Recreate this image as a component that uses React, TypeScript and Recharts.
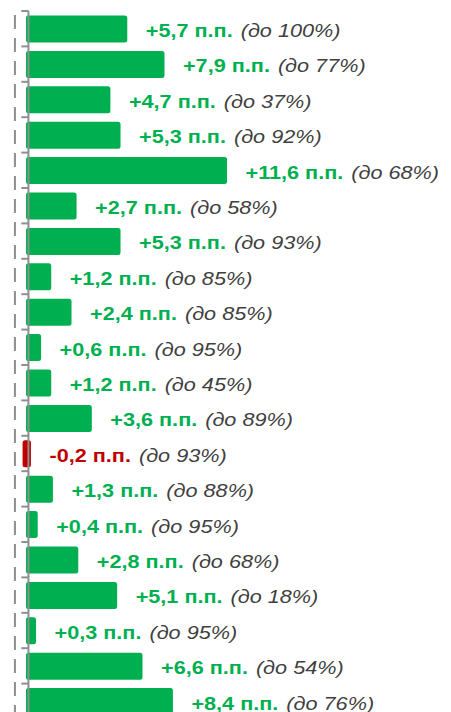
import { BarChart, Bar, XAxis, YAxis, Cell, LabelList, ReferenceLine } from 'recharts';

// row keys (the source chart shows no category names)
const rows = ['1', '2', '3', '4', '5', '6', '7', '8', '9', '10', '11', '12', '13', '14', '15', '16', '17', '18', '19', '20'];
// change, percentage points
const changes = [5.7, 7.9, 4.7, 5.3, 11.6, 2.7, 5.3, 1.2, 2.4, 0.6, 1.2, 3.6, -0.2, 1.3, 0.4, 2.8, 5.1, 0.3, 6.6, 8.4];
// level reached, %
const targets = [100, 77, 37, 92, 68, 58, 93, 85, 85, 95, 45, 89, 93, 88, 95, 68, 18, 95, 54, 76];

const data = rows.map((name, i) => ({ name, value: changes[i], target: targets[i] }));

const GREEN = '#00B050';
const RED = '#C00000';
const AXIS = '#8f8f8f';
const FONT = '"Liberation Sans", Arial, sans-serif';

function fmtChange(v: number) {
  const s = Math.abs(v).toFixed(1).replace('.', ',');
  return (v < 0 ? '-' : '+') + s + ' п.п.';
}

function ChangeLabel(props: any) {
  const vb = props.viewBox ?? props;
  const { x, y, width, height } = vb;
  const i = props.index;
  const v = changes[i];
  const right = Math.max(x, x + width);
  // source text looks horizontally stretched
  return (
    <g transform={`translate(${right + 21},${y + height / 2 + 1.5}) scale(1.14,1)`}>
      <text x={0} y={0} dominantBaseline="central" fontSize={19} fontFamily={FONT}>
        <tspan fontWeight="bold" fill={v < 0 ? RED : GREEN}>{fmtChange(v)}</tspan>
        <tspan dx={7} fontStyle="italic" fill="#404040">{`(до ${targets[i]}%)`}</tspan>
      </text>
    </g>
  );
}

export default function App() {
  return (
    <div style={{ width: 443, height: 704, overflow: 'hidden' }}>
      <BarChart
        width={443}
        height={715}
        data={data}
        layout="vertical"
        margin={{ top: 3, right: 0, bottom: 4, left: 0 }}
      >
        <XAxis type="number" domain={[-1.21, 25]} hide />
        <YAxis type="category" dataKey="name" hide />
        <ReferenceLine x={-0.8} stroke={AXIS} strokeWidth={2} strokeDasharray="14 9" />
        <ReferenceLine x={0} stroke={AXIS} strokeWidth={2} />
        {rows.map((r) => (
          <ReferenceLine
            key={r}
            position="start"
            segment={[{ x: -0.42, y: r }, { x: 0, y: r }]}
            stroke={AXIS}
            strokeWidth={2}
          />
        ))}
        <Bar
          dataKey="value"
          barSize={22}
          strokeWidth={5}
          strokeLinejoin="round"
          isAnimationActive={false}
        >
          {data.map((d, i) => (
            <Cell key={`cell-${i}`} fill={d.value < 0 ? RED : GREEN} stroke={d.value < 0 ? RED : GREEN} />
          ))}
          <LabelList dataKey="value" content={ChangeLabel} />
        </Bar>
      </BarChart>
    </div>
  );
}
